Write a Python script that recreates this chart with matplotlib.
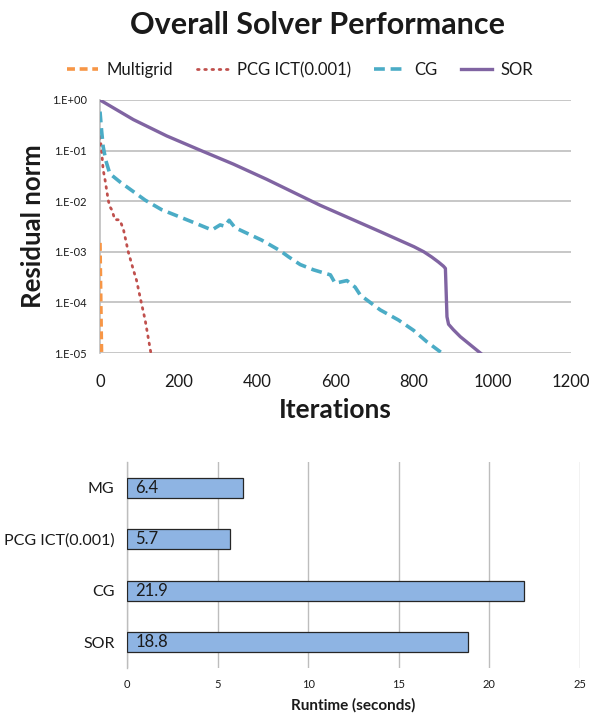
import matplotlib
matplotlib.use("Agg")
import matplotlib.pyplot as plt
from matplotlib.ticker import FixedLocator, FixedFormatter, NullLocator

plt.rcParams['font.family'] = ['Lato', 'DejaVu Sans']

# ---------------- data ----------------
mg_iter = [0, 1, 2, 3, 4]
mg_res = [1.5e-3, 4e-4, 1.1e-4, 3e-5, 9e-6]

pcg_iter = [0, 4, 8, 13, 21, 25, 30, 38, 47, 51, 60, 72, 85, 93, 102, 115, 129, 131]
pcg_res = [0.19, 0.102, 0.042, 0.026, 0.0105, 0.0078, 0.0068, 0.0043, 0.0043, 0.0042,
           0.0027, 1.0e-3, 4.4e-4, 2.75e-4, 1.29e-4, 4.5e-5, 1.07e-5, 9e-6]

cg_iter = [0, 4, 8, 15, 25, 51, 115, 157, 200, 242, 285, 306, 318, 329, 344, 412, 459, 480,
           510, 544, 587, 599, 610, 629, 650, 663, 714, 760, 799, 833, 871]
cg_res = [0.59, 0.25, 0.12, 0.063, 0.035, 0.024, 0.0105, 0.0068, 0.0050, 0.0037, 0.0027,
          0.0034, 0.0032, 0.0042, 0.0030, 0.0017, 0.00105, 8.0e-4, 5.6e-4, 4.4e-4, 3.5e-4,
          2.4e-4, 2.5e-4, 2.7e-4, 2.0e-4, 1.4e-4, 7.1e-5, 4.5e-5, 2.8e-5, 1.66e-5, 1.0e-5]

sor_iter = [0, 85, 170, 255, 340, 425, 510, 561, 714, 800, 825, 845, 862, 875, 880, 884, 888,
            900, 918, 969]
sor_res = [1.0, 0.41, 0.195, 0.102, 0.054, 0.027, 0.0129, 0.0083, 0.0025, 1.26e-3, 1.0e-3,
           7.9e-4, 6.3e-4, 5.2e-4, 4.7e-4, 5.2e-5, 3.7e-5, 2.9e-5, 2.1e-5, 1.0e-5]

ytick_vals = [1e0, 1e-1, 1e-2, 1e-3, 1e-4, 1e-5]
ytick_labels = ["1.E+00", "1.E-01", "1.E-02", "1.E-03", "1.E-04", "1.E-05"]
xtick_vals = [0, 200, 400, 600, 800, 1000, 1200]

bar_cats = ["MG", "PCG ICT(0.001)", "CG", "SOR"]
bar_vals = [6.4, 5.7, 21.9, 18.8]
bar_ticks = [0, 5, 10, 15, 20, 25]

# ---------------- figure ----------------
fig = plt.figure(figsize=(6.01, 7.15), dpi=100)

grid_c = "#BDBDBD"
text_c = "#1A1A1A"

ax = fig.add_axes([100/601, 1-353/715, 471/601, 253/715])
ax.set_yscale('log')
ax.set_ylim(1e-5, 1.0)
ax.set_xlim(0, 1200)

l1, = ax.plot(mg_iter, mg_res, color="#F79646", lw=2.6, linestyle=(0, (2.2, 1.3)), zorder=4, label="Multigrid")
l2, = ax.plot(pcg_iter, pcg_res, color="#C0504D", lw=2.0, linestyle=(0, (0.6, 2.0)),
              dash_capstyle='round', zorder=4, label="PCG ICT(0.001)")
l3, = ax.plot(cg_iter, cg_res, color="#4BACC6", lw=2.6, linestyle=(0, (3.0, 1.6)), zorder=4, label="CG")
l4, = ax.plot(sor_iter, sor_res, color="#8064A2", lw=2.4, zorder=4, label="SOR")

ax.yaxis.set_major_locator(FixedLocator(ytick_vals))
ax.yaxis.set_major_formatter(FixedFormatter(ytick_labels))
ax.yaxis.set_minor_locator(NullLocator())
ax.set_xticks(xtick_vals)
ax.tick_params(axis='y', length=0, labelsize=8, pad=9.5, labelcolor=text_c)
ax.tick_params(axis='x', length=0, labelsize=12, pad=15, labelcolor=text_c)
ax.grid(axis='y', color=grid_c, lw=1.2)
ax.set_axisbelow(True)
for s in ['top', 'right', 'bottom']:
    ax.spines[s].set_visible(False)
ax.spines['left'].set_color(grid_c)
ax.spines['left'].set_linewidth(1.2)
ax.set_ylabel("Residual norm", fontsize=18.5, fontweight='bold', labelpad=5, color=text_c)
ax.set_xlabel("Iterations", fontsize=19, fontweight='bold', labelpad=6, color=text_c)

fig.text(317/601, 1-25/715, "Overall Solver Performance", ha='center', va='center',
         fontsize=22, fontweight='bold', color=text_c)

fig.legend(handles=[l1, l2, l3, l4], loc='center', bbox_to_anchor=(300/601, 1-70/715),
           ncol=4, frameon=False, fontsize=12, handlelength=1.9, columnspacing=1.4,
           handletextpad=0.5, labelcolor=text_c)

# ---------------- bar chart ----------------
bx = fig.add_axes([127/601, 1-668/715, 453/601, 206/715])
ypos = list(range(len(bar_cats)))
bars = bx.barh(ypos, bar_vals, height=0.39, color="#8EB4E3", edgecolor="#262626", linewidth=0.9, zorder=3)
bx.set_ylim(len(bar_cats)-0.5, -0.5)
bx.set_xlim(0, 25)
bx.set_xticks(bar_ticks)
bx.set_yticks(ypos)
bx.set_yticklabels(bar_cats)
bx.tick_params(axis='y', length=0, labelsize=11.5, pad=9, labelcolor=text_c)
bx.tick_params(axis='x', length=0, labelsize=8, pad=8, labelcolor=text_c)
bx.grid(axis='x', color=grid_c, lw=1.0)
bx.set_axisbelow(True)
for s in ['top', 'right', 'bottom']:
    bx.spines[s].set_visible(False)
bx.spines['left'].set_color(grid_c)
bx.spines['left'].set_linewidth(1.0)
for yi, v in zip(ypos, bar_vals):
    bx.text(0.45, yi, f"{v}", ha='left', va='center', fontsize=12, color=text_c, zorder=4)
bx.set_xlabel("Runtime (seconds)", fontsize=11, fontweight='bold', labelpad=6, color=text_c)

fig.savefig("out.png", dpi=100)
